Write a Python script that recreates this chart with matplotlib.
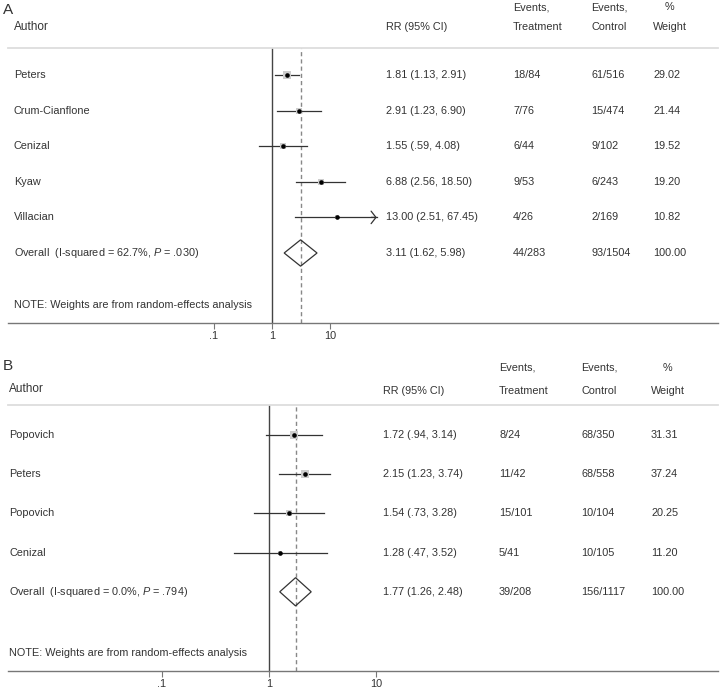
import numpy as np
import matplotlib
matplotlib.use("Agg")
import matplotlib.pyplot as plt
from matplotlib.patches import Polygon
from matplotlib.transforms import blended_transform_factory

plt.rcParams['font.family'] = ['Liberation Sans', 'DejaVu Sans']
plt.rcParams['mathtext.fontset'] = 'custom'
plt.rcParams['mathtext.it'] = 'Liberation Sans:italic'
plt.rcParams['mathtext.rm'] = 'Liberation Sans'

# Panel A data
a_authors = ["Peters", "Crum-Cianflone", "Cenizal", "Kyaw", "Villacian"]
a_rr = [1.81, 2.91, 1.55, 6.88, 13.00]
a_lo = [1.13, 1.23, 0.59, 2.56, 2.51]
a_hi = [2.91, 6.90, 4.08, 18.50, 67.45]
a_treat = ["18/84", "7/76", "6/44", "9/53", "4/26"]
a_ctrl = ["61/516", "15/474", "9/102", "6/243", "2/169"]
a_weight = [29.02, 21.44, 19.52, 19.20, 10.82]
a_overall = [3.11, 1.62, 5.98]
a_overall_treat, a_overall_ctrl = "44/283", "93/1504"
a_i2, a_p = "62.7%", ".030"

# Panel B data
b_authors = ["Popovich", "Peters", "Popovich", "Cenizal"]
b_rr = [1.72, 2.15, 1.54, 1.28]
b_lo = [0.94, 1.23, 0.73, 0.47]
b_hi = [3.14, 3.74, 3.28, 3.52]
b_treat = ["8/24", "11/42", "15/101", "5/41"]
b_ctrl = ["68/350", "68/558", "10/104", "10/105"]
b_weight = [31.31, 37.24, 20.25, 11.20]
b_overall = [1.77, 1.26, 2.48]
b_overall_treat, b_overall_ctrl = "39/208", "156/1117"
b_i2, b_p = "0.0%", ".794"

ticks = [0.1, 1, 10]
tick_labels = [".1", "1", "10"]

W, H = 720, 691
TXT = "#333333"
FS = 7.8

fig = plt.figure(figsize=(W / 100, H / 100), dpi=100)


def fmt(v):
    s = f"{v:.2f}"
    return s[1:] if s.startswith("0") else s


def panel(letter, authors, rr, lo, hi, treat, ctrl, weight, overall, otreat, octrl, i2, p,
          top, bottom, row1, rowgap, one_px, decade, clip,
          x_lab, x_rr, x_tr, x_ct, x_wt, y_ev, y_hd, y_auth, y_letter, dh):
    ax = fig.add_axes([8 / W, 1 - bottom / H, 710 / W, (bottom - top) / H])
    ax.set_xscale("log")
    ax.set_xlim(10 ** ((8 - one_px) / decade), 10 ** ((718 - one_px) / decade))
    y_top = 1 - (row1 - top) / rowgap
    y_bot = 1 + (bottom - row1) / rowgap
    ax.set_ylim(y_bot, y_top)
    for s in ["left", "right"]:
        ax.spines[s].set_visible(False)
    ax.spines["top"].set_color("#dddddd")
    ax.spines["top"].set_linewidth(1.3)
    ax.spines["bottom"].set_color("#777777")
    ax.spines["bottom"].set_linewidth(1.0)
    ax.set_yticks([])
    ax.set_xticks(ticks)
    ax.set_xticklabels(tick_labels)
    ax.minorticks_off()
    ax.tick_params(axis="x", length=4, width=0.8, color="#777777", labelcolor=TXT,
                   labelsize=FS, pad=2)

    n = len(authors)
    ys = np.arange(1, n + 1)
    ax.axvline(1, color="#444444", lw=1.0)
    ax.axvline(overall[0], color="#888888", lw=1.0, ls=(0, (3, 2.2)))

    for y, r, l, h, w in zip(ys, rr, lo, hi, weight):
        if h > clip:
            ax.plot([l, clip], [y, y], color="#333333", lw=0.9)
            ax.annotate("", xy=(clip, y), xytext=(clip / 1.25, y),
                        arrowprops=dict(arrowstyle="->,head_length=0.35,head_width=0.45",
                                        color="#333333", lw=0.9, shrinkA=0, shrinkB=0))
        else:
            ax.plot([l, h], [y, y], color="#333333", lw=0.9)
        ax.scatter([r], [y], marker="s", s=w * 1.0, color="#cdcdcd", zorder=3, lw=0)
        ax.scatter([r], [y], marker="o", s=11, color="black", zorder=4, lw=0)

    yo = n + 1
    diamond = Polygon([[overall[1], yo], [overall[0], yo - dh], [overall[2], yo],
                       [overall[0], yo + dh]], closed=True, fill=False,
                      edgecolor="#333333", lw=0.9, zorder=3)
    ax.add_patch(diamond)

    tr = blended_transform_factory(fig.transFigure, ax.transData)
    rows = [(a, f"{fmt(r)} ({fmt(l)}, {fmt(h)})", t, c, f"{w:.2f}")
            for a, r, l, h, t, c, w in zip(authors, rr, lo, hi, treat, ctrl, weight)]
    rows.append((f"Overall  (I-squared = {i2}, $\\it{{P}}$ = {p})",
                 f"{fmt(overall[0])} ({fmt(overall[1])}, {fmt(overall[2])})",
                 otreat, octrl, "100.00"))
    for y, row in zip(list(ys) + [yo], rows):
        for xp, t in zip([x_lab, x_rr, x_tr, x_ct, x_wt], row):
            ax.text(xp / W, y, t, transform=tr, ha="left", va="center",
                    fontsize=FS, color=TXT)
    y_note = 1 + (bottom - 18 - row1) / rowgap
    ax.text(x_lab / W, y_note, "NOTE: Weights are from random-effects analysis",
            transform=tr, ha="left", va="center", fontsize=FS, color=TXT)

    # headers
    def ft(x, y, s, ha="left", fs=FS):
        fig.text(x / W, 1 - y / H, s, va="center", ha=ha, fontsize=fs, color=TXT)
    ft(3, y_letter, letter, fs=11)
    ft(x_lab, y_auth, "Author", fs=8.5)
    ft(x_rr, y_hd, "RR (95% CI)")
    ft(x_tr, y_ev, "Events,")
    ft(x_tr, y_hd, "Treatment")
    ft(x_ct, y_ev, "Events,")
    ft(x_ct, y_hd, "Control")
    ft(x_wt + 16, y_ev, "%", ha="center")
    ft(x_wt, y_hd, "Weight")
    return ax


panel("A", a_authors, a_rr, a_lo, a_hi, a_treat, a_ctrl, a_weight, a_overall,
      a_overall_treat, a_overall_ctrl, a_i2, a_p,
      top=48, bottom=323, row1=75, rowgap=35.6, one_px=272, decade=58, clip=64,
      x_lab=14, x_rr=386, x_tr=513, x_ct=591, x_wt=653,
      y_ev=7, y_hd=27, y_auth=27, y_letter=10, dh=0.37)

panel("B", b_authors, b_rr, b_lo, b_hi, b_treat, b_ctrl, b_weight, b_overall,
      b_overall_treat, b_overall_ctrl, b_i2, b_p,
      top=405, bottom=671, row1=435, rowgap=39.2, one_px=269, decade=107, clip=1000,
      x_lab=9, x_rr=383, x_tr=499, x_ct=581, x_wt=651,
      y_ev=368, y_hd=391, y_auth=389, y_letter=366, dh=0.36)

fig.savefig("out.png", dpi=100, facecolor="white")
